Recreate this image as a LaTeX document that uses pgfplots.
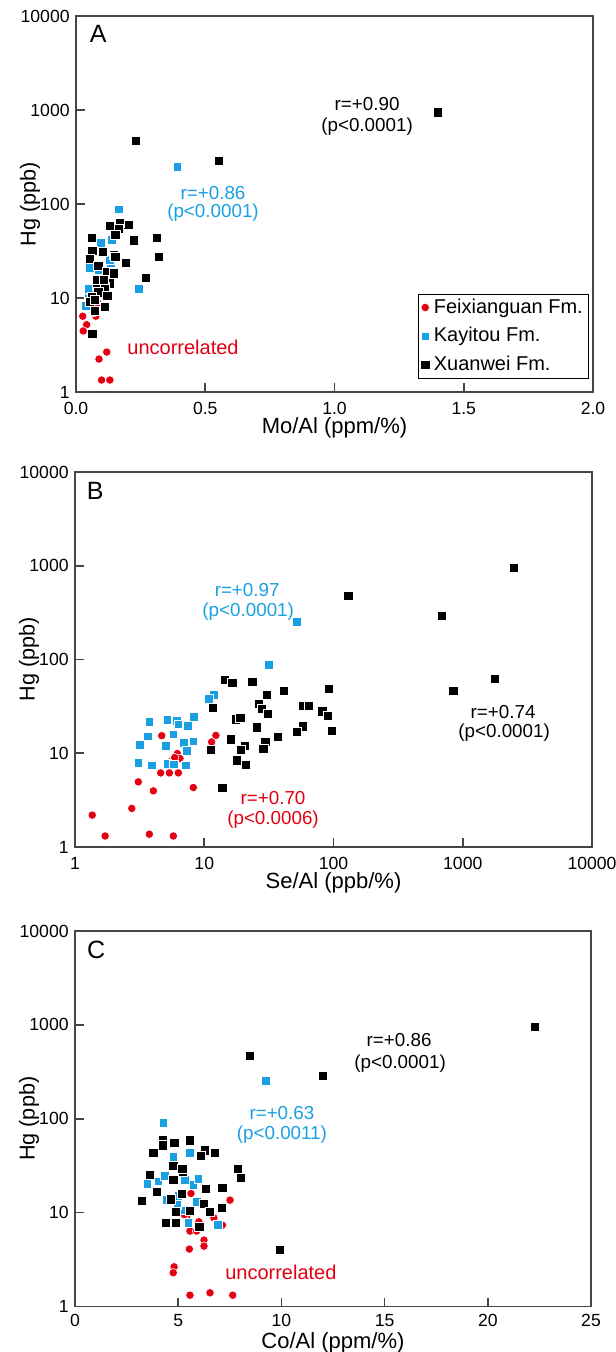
\documentclass[border=0pt]{standalone}
\usepackage{fontspec}
\setmainfont{Liberation Sans}
\usepackage{pgfplots}
\pgfplotsset{compat=1.18}
\definecolor{myred}{RGB}{228,0,18}
\definecolor{myblue}{RGB}{24,160,226}
\definecolor{axisgray}{RGB}{70,70,70}
\tikzset{
  ann/.style={font=\fontsize{9.4}{11}\selectfont, anchor=center, inner sep=0pt},
  plab/.style={font=\fontsize{12.5}{14}\selectfont, anchor=center, inner sep=0pt},
}
\pgfplotsset{
  every axis/.append style={
    scale only axis,
    width=258.5pt, height=188pt,
    ymode=log, ymin=1, ymax=10000,
    ytick={1,10,100,1000,10000},
    yticklabels={1,10,100,1000,10000},
    yminorticks=false, xminorticks=false,
    tick align=inside,
    xtick pos=bottom, ytick pos=left,
    major tick length=4.5pt,
    axis line style={draw=axisgray, line width=0.8pt},
    xtick style={draw=axisgray, line width=0.8pt},
    ytick style={draw=axisgray, line width=0.8pt},
    xticklabel style={font=\fontsize{8.8}{10}\selectfont, anchor=center, inner sep=0pt, yshift=-8.3pt},
    yticklabel style={font=\fontsize{8.8}{10}\selectfont, anchor=east, inner sep=0pt, xshift=-3pt},
    ylabel={Hg (ppb)},
    ylabel style={at={(axis description cs:-0.089,0.5)}, anchor=center, font=\fontsize{10.8}{12}\selectfont},
    xlabel style={at={(axis description cs:0.5,-0.096)}, anchor=center, font=\fontsize{11}{12}\selectfont},
    clip=false,
  },
  redpts/.style={only marks, mark=*, mark size=2.1pt, mark options={fill=myred, draw=white, line width=0.3pt}},
  bluepts/.style={only marks, mark=square*, mark size=2.2pt, mark options={fill=myblue, draw=white, line width=0.3pt}},
  blackpts/.style={only marks, mark=square*, mark size=2.3pt, mark options={fill=black, draw=white, line width=0.3pt}},
}
\begin{document}
\begin{tikzpicture}
\path[use as bounding box] (0pt,0pt) rectangle (307.5pt,-676pt);

% ---------------- Panel A ----------------
\begin{axis}[at={(38pt,-196pt)}, anchor=south west,
  xmin=0, xmax=2, xtick={0,0.5,1,1.5,2}, xticklabels={0.0,0.5,1.0,1.5,2.0},
  xlabel={Mo/Al (ppm/\%)},
  legend style={at={(rel axis cs:0.993,0.035)}, anchor=south east, draw=black, line width=0.6pt,
    font=\fontsize{10}{12}\selectfont, inner xsep=1pt, inner ysep=0.3pt, row sep=1.6pt,
    cells={anchor=west}},
  legend image code/.code={\draw[mark repeat=2,mark phase=2,#1] plot coordinates {(0cm,0cm) (0.12cm,0cm) (0.24cm,0cm)};},
]
\addplot[redpts] coordinates {
(0.026,6.4)(0.041,5.2)(0.028,4.46)(0.077,6.4)(0.089,2.24)(0.119,2.66)(0.099,1.34)(0.131,1.34)(0.085,8.8)(0.06,9.1)(0.07,7.0)};
\addlegendentry{Feixianguan Fm.}
\addplot[bluepts] coordinates {
(0.392,249)(0.166,88)(0.244,12.5)(0.097,39)(0.138,42)(0.134,23.4)(0.063,21.5)(0.093,16.9)(0.089,19.8)(0.048,10.8)(0.041,8.1)(0.057,12.2)(0.131,25.4)(0.054,20.8)(0.048,12.6)(0.039,8.2)};
\addlegendentry{Kayitou Fm.}
\addplot[blackpts] coordinates {
(0.232,468)(0.552,289)(1.399,946)(0.202,60)(0.170,63)(0.164,55)(0.131,59)(0.152,47)(0.061,44)(0.312,44)(0.224,41)(0.063,32)(0.103,31)(0.145,29)(0.152,27.5)(0.321,27.5)(0.054,26)(0.193,23.5)(0.086,22)(0.119,19)(0.145,18.3)(0.271,16.4)(0.131,14.3)(0.080,13.4)(0.112,13)(0.086,11.5)(0.121,10.6)(0.061,10.3)(0.115,8.2)(0.074,7.3)(0.063,4.14)(0.08,15.5)(0.106,15.5)(0.054,9.1)(0.110,8.1)(0.074,9.5)};
\addlegendentry{Xuanwei Fm.}
\node[plab] at (rel axis cs:0.043,0.952) {A};
\node[ann] at (rel axis cs:0.563,0.766) {r=+0.90};
\node[ann] at (rel axis cs:0.563,0.705) {(p<0.0001)};
\node[ann, text=myblue] at (rel axis cs:0.265,0.529) {r=+0.86};
\node[ann, text=myblue] at (rel axis cs:0.265,0.476) {(p<0.0001)};
\node[ann, text=myred, font=\fontsize{10}{12}\selectfont] at (rel axis cs:0.207,0.120) {uncorrelated};
\end{axis}

% ---------------- Panel B ----------------
\begin{axis}[at={(37.5pt,-423.5pt)}, anchor=south west, height=187.5pt,
  xmode=log, xmin=1, xmax=10000, xtick={1,10,100,1000,10000}, xticklabels={1,10,100,1000,10000},
  xlabel={Se/Al (ppb/\%)},
]
\addplot[redpts] coordinates {
(4.69,15.4)(12.3,15.5)(11.4,13.2)(6.19,9.93)(6.49,8.79)(5.43,8.08)(4.6,6.17)(5.37,6.17)(6.3,6.17)(3.09,4.95)(4.04,3.97)(8.23,4.31)(1.36,2.19)(2.75,2.58)(1.71,1.31)(3.76,1.37)(5.77,1.31)(5.9,9.0)};
\addplot[bluepts] coordinates {
(51.9,254)(31.7,88.5)(11.9,42.4)(10.9,38.2)(3.76,21.5)(5.18,22.8)(6.12,22)(6.3,20.4)(7.45,19.5)(8.33,24.3)(3.65,15.2)(5.77,15.9)(3.15,12.2)(5.06,11.9)(6.97,12.9)(8.23,13.4)(7.31,10.6)(3.09,7.96)(3.92,7.45)(5.18,7.77)(5.83,7.64)(7.22,7.45)};
\addplot[blackpts] coordinates {
(130,476)(2493,959)(691,294)(1767,62)(845,46)(92,49)(58,32)(64,32)(82,28)(90,25)(58,19.4)(97,17.3)(14.5,61)(16.5,56.5)(23.5,58)(41,46)(30.6,42)(11.6,30.6)(26.4,33.8)(28,30)(31,26.4)(17.5,23)(19,24)(25.5,18.9)(52,16.9)(16.1,14.1)(20.7,12)(29.7,13.2)(37,14.9)(11.2,10.9)(19.2,10.9)(17.8,8.4)(21,7.6)(13.8,4.27)(28.6,11.2)};
\node[plab] at (rel axis cs:0.039,0.949) {B};
\node[ann, text=myblue] at (rel axis cs:0.333,0.685) {r=+0.97};
\node[ann, text=myblue] at (rel axis cs:0.335,0.627) {(p<0.0001)};
\node[ann, text=myred] at (rel axis cs:0.383,0.131) {r=+0.70};
\node[ann, text=myred] at (rel axis cs:0.383,0.072) {(p<0.0006)};
\node[ann] at (rel axis cs:0.828,0.360) {r=+0.74};
\node[ann] at (rel axis cs:0.830,0.304) {(p<0.0001)};
\end{axis}

% ---------------- Panel C ----------------
\begin{axis}[at={(37.5pt,-653.25pt)}, anchor=south west, width=258pt, height=187.75pt,
  xmin=0, xmax=25, xtick={0,5,10,15,20,25}, xticklabels={0,5,10,15,20,25},
  xlabel={Co/Al (ppm/\%)},
  xticklabel style={yshift=1.3pt},
  xlabel style={at={(axis description cs:0.5,-0.097)}},
]
\addplot[redpts] coordinates {
(7.51,13.6)(5.62,16)(6.73,8.8)(7.14,7.36)(5.57,6.36)(5.89,6.36)(5.41,9)(6.25,5.1)(6.25,4.4)(5.54,4.09)(4.80,2.65)(4.76,2.29)(5.57,1.32)(6.54,1.4)(7.64,1.32)(5.3,9.5)(6.0,8)};
\addplot[bluepts] coordinates {
(9.24,255)(4.28,90.3)(5.57,43.3)(4.76,39.2)(3.50,20.1)(4.04,21.6)(4.36,24.5)(5.33,22.2)(5.73,19.9)(5.97,23.1)(4.44,13.6)(4.96,13)(5.89,13)(5.25,10.6)(5.49,7.87)(6.91,7.49)(4.96,12.2)(5.0,15)};
\addplot[blackpts] coordinates {
(8.48,466)(12.0,285)(22.29,948)(9.93,3.99)(4.25,59)(4.81,55.3)(5.57,59)(4.25,52.2)(3.79,43.7)(6.30,46.2)(6.10,40.2)(6.78,43.7)(4.76,31.5)(7.88,29.5)(8.04,23.5)(3.63,25.1)(5.22,27.2)(4.76,22.5)(3.96,16.6)(6.35,18.1)(7.14,18.4)(5.17,16)(3.23,13.3)(4.63,13.9)(6.25,12.5)(4.88,10.2)(5.57,10.5)(6.54,10.2)(7.11,11.2)(4.41,7.87)(4.88,7.87)(6.02,7.06)(5.2,29.5)};
\node[plab] at (rel axis cs:0.041,0.949) {C};
\node[ann, text=myblue] at (rel axis cs:0.401,0.515) {r=+0.63};
\node[ann, text=myblue] at (rel axis cs:0.401,0.457) {(p<0.0011)};
\node[ann, text=myred, font=\fontsize{10}{12}\selectfont] at (rel axis cs:0.399,0.092) {uncorrelated};
\node[ann] at (rel axis cs:0.628,0.710) {r=+0.86};
\node[ann] at (rel axis cs:0.630,0.648) {(p<0.0001)};
\end{axis}
\end{tikzpicture}
\end{document}
